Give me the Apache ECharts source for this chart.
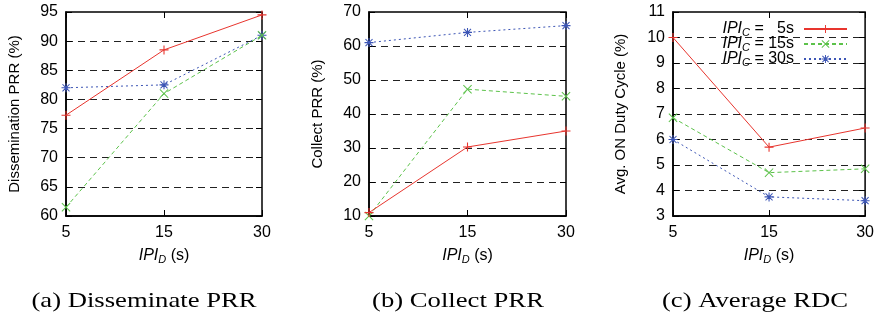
<!DOCTYPE html>
<html>
<head>
<meta charset="utf-8">
<script src="https://cdn.jsdelivr.net/npm/echarts@6/dist/echarts.min.js"></script>
<style>
  html, body { margin: 0; padding: 0; background: #fff; }
  #chart { width: 877px; height: 320px; }
</style>
</head>
<body>
<div id="chart"></div>
<script>
// x categories (IPI_D in seconds)
const ipiD = ['5', '15', '30'];
// series names, one per IPI_C
const ipiC = ['5s', '15s', '30s'];

// (a) Dissemination PRR (%)
const dissem5 = [77.3, 88.5, 94.5];
const dissem15 = [61.5, 81.0, 91.0];
const dissem30 = [82.0, 82.5, 91.0];

// (b) Collect PRR (%)
const collect5 = [11.0, 30.3, 35.0];
const collect15 = [10.0, 47.3, 45.2];
const collect30 = [61.0, 64.0, 66.0];

// (c) Avg. ON duty cycle (%)
const rdc5 = [10.0, 5.7, 6.45];
const rdc15 = [6.85, 4.7, 4.85];
const rdc30 = [6.0, 3.75, 3.6];

const captions = ['(a) Disseminate PRR', '(b) Collect PRR', '(c) Average RDC'];

const SANS = 'Liberation Sans';
const COLORS = ['#e8352e', '#5cc24a', '#3c55b5'];
const LINE_TYPES = ['solid', [4, 3], [2, 3]];

const PLUS = 'path://M4.4,0H5.6V4.4H10V5.6H5.6V10H4.4V5.6H0V4.4H4.4Z';
const CROSS = 'path://M0.8,0L5,4.2L9.2,0L10,0.8L5.8,5L10,9.2L9.2,10L5,5.8L0.8,10L0,9.2L4.2,5L0,0.8Z';
const STAR = 'path://M4.4,0H5.6V4.4H10V5.6H5.6V10H4.4V5.6H0V4.4H4.4Z' +
  'M1.5,0.7L5,4.2L8.5,0.7L9.3,1.5L5.8,5L9.3,8.5L8.5,9.3L5,5.8L1.5,9.3L0.7,8.5L4.2,5L0.7,1.5Z';
const SYMBOLS = [PLUS, CROSS, STAR];

const subRich = {
  i: { fontFamily: SANS, fontSize: 16, fontStyle: 'italic', color: '#000' },
  s: { fontFamily: SANS, fontSize: 11, fontStyle: 'italic', color: '#000', padding: [8, 0, 0, 0] },
  t: { fontFamily: SANS, fontSize: 16, color: '#000' }
};

const panels = [
  { left: 66, width: 196, yName: 'Dissemination PRR (%)', min: 60, max: 95, step: 5, gap: 44, data: [dissem5, dissem15, dissem30] },
  { left: 369, width: 197, yName: 'Collect PRR (%)', min: 10, max: 70, step: 10, gap: 44, data: [collect5, collect15, collect30] },
  { left: 673, width: 196, yName: 'Avg. ON Duty Cycle (%)', min: 3, max: 11, step: 1, gap: 45, data: [rdc5, rdc15, rdc30] }
];

const grid = [], xAxis = [], yAxis = [], series = [];

panels.forEach((p, k) => {
  grid.push({
    left: p.left, width: p.width, top: 12, height: 204,
    show: true, borderColor: '#000', borderWidth: 1.5, backgroundColor: 'transparent'
  });
  xAxis.push({
    type: 'category', gridIndex: k, data: ipiD, boundaryGap: false,
    axisLine: { lineStyle: { color: '#000', width: 1.5 } },
    axisTick: { inside: true, length: 6, lineStyle: { color: '#000' } },
    axisLabel: { fontFamily: SANS, fontSize: 16, color: '#000', margin: 9 },
    name: '{i|IPI}{s|D}{t| (s)}', nameLocation: 'middle', nameGap: 30,
    nameTextStyle: { rich: subRich }
  });
  xAxis.push({
    type: 'category', gridIndex: k, data: ipiD, boundaryGap: false, position: 'top',
    axisLine: { show: false },
    axisTick: { inside: true, length: 6, lineStyle: { color: '#000' } },
    axisLabel: { show: false }
  });
  yAxis.push({
    type: 'value', gridIndex: k, min: p.min, max: p.max, interval: p.step,
    axisLine: { show: true, lineStyle: { color: '#000', width: 1.5 } },
    axisTick: { show: true, inside: true, length: 6, lineStyle: { color: '#000' } },
    axisLabel: { fontFamily: SANS, fontSize: 16, color: '#000', margin: 8 },
    splitLine: {
      show: true, showMinLine: false, showMaxLine: false,
      lineStyle: { color: '#222', type: [7, 5], width: 1 }
    },
    name: p.yName, nameLocation: 'middle', nameGap: p.gap,
    nameTextStyle: { fontFamily: SANS, fontSize: 15, color: '#000' }
  });
  yAxis.push({
    type: 'value', gridIndex: k, min: p.min, max: p.max, interval: p.step, position: 'right',
    axisLine: { show: false },
    axisTick: { show: true, inside: true, length: 6, lineStyle: { color: '#000' } },
    axisLabel: { show: false },
    splitLine: { show: false }
  });
  p.data.forEach((vals, s) => {
    series.push({
      name: ipiC[s], type: 'line',
      xAxisIndex: 2 * k, yAxisIndex: 2 * k,
      data: vals,
      symbol: SYMBOLS[s], symbolSize: 9,
      itemStyle: { color: COLORS[s] },
      lineStyle: { color: COLORS[s], width: 1, type: LINE_TYPES[s] },
      emphasis: { disabled: true },
      z: 3 - s
    });
  });
});

const chart = echarts.init(document.getElementById('chart'), null, { renderer: 'canvas' });
chart.setOption({
  animation: false,
  backgroundColor: '#fff',
  grid, xAxis, yAxis, series,
  legend: {
    data: ipiC,
    orient: 'vertical', align: 'right',
    right: 24, top: 16,
    itemWidth: 43, itemHeight: 10, itemGap: -2.5,
    selectedMode: false,
    formatter: name => '{i|IPI}{s|C}{t| = ' + (name.length < 3 ? '  ' : '') + name + '}',
    textStyle: { rich: subRich, padding: [0, 5, 0, 0] }
  },
  graphic: captions.map((c, k) => ({
    type: 'text',
    x: [144, 458, 755][k], y: 301,
    scaleX: 1.27,
    style: {
      text: c, fill: '#000',
      font: '21px "Liberation Serif"',
      align: 'center', verticalAlign: 'middle'
    }
  }))
});
</script>
</body>
</html>
